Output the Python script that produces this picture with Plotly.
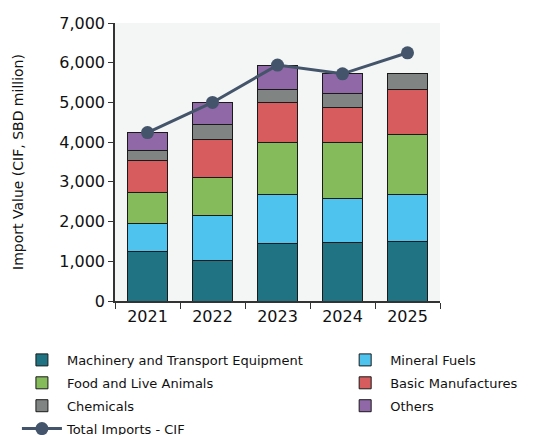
import plotly.graph_objects as go

years = ["2021", "2022", "2023", "2024", "2025"]

machinery = [1240, 1020, 1450, 1480, 1510]
mineral_fuels = [720, 1140, 1240, 1110, 1180]
food = [780, 960, 1310, 1410, 1500]
basic_manufactures = [800, 940, 1000, 880, 1140]
chemicals = [240, 380, 330, 350, 390]
others = [460, 560, 610, 490, 0]
total_imports = [4240, 5000, 5940, 5720, 6250]

# (name, values, colour, legend column)
series = [
    ("Machinery and Transport Equipment", machinery, "#1f7382", "legend"),
    ("Mineral Fuels", mineral_fuels, "#4dc3ee", "legend2"),
    ("Food and Live Animals", food, "#85bb5b", "legend"),
    ("Basic Manufactures", basic_manufactures, "#d65c5e", "legend2"),
    ("Chemicals", chemicals, "#808584", "legend"),
    ("Others", others, "#9068a8", "legend2"),
]

fig = go.Figure()
for name, vals, color, leg in series:
    fig.add_trace(go.Bar(
        x=years, y=vals, name=name, legend=leg, legendgroup=name,
        marker=dict(color=color, line=dict(color="#1a1a1a", width=1)),
    ))

fig.add_trace(go.Scatter(
    x=years, y=total_imports, name="Total Imports - CIF",
    legend="legend", legendgroup="total",
    mode="lines+markers",
    line=dict(color="#44546a", width=3),
    marker=dict(color="#44546a", size=13),
))

font = "DejaVu Sans, sans-serif"
legend_style = dict(
    orientation="v",
    xref="container", yref="container",
    yanchor="top", xanchor="left",
    font=dict(family=font, size=13, color="#111111"),
    itemwidth=40, tracegroupgap=3,
    traceorder="grouped",
    bgcolor="rgba(0,0,0,0)",
)
fig.update_layout(
    width=546, height=435,
    barmode="stack", bargap=0.37,
    paper_bgcolor="white", plot_bgcolor="#f4f6f5",
    margin=dict(l=115, r=106, t=23, b=134, autoexpand=False),
    font=dict(family=font, size=14, color="#111111"),
    legend=dict(legend_style, x=0.031, y=0.207),
    legend2=dict(legend_style, x=0.623, y=0.207),
    showlegend=True,
)
# y-axis title as a rotated label at the far left
fig.add_annotation(
    text="Import Value (CIF, SBD million)",
    xref="paper", yref="paper", x=-0.2985, y=0.5,
    xanchor="center", yanchor="middle",
    textangle=-90, showarrow=False,
    font=dict(family=font, size=14, color="#111111"),
)
fig.update_yaxes(
    range=[0, 7000], dtick=1000, tickformat=",",
    showgrid=False, zeroline=False,
    showline=True, linecolor="#333333", linewidth=1.5,
    ticks="outside", ticklen=5, tickcolor="#333333",
    tickfont=dict(size=16),
)
fig.update_xaxes(
    showgrid=False, showline=True, linecolor="#333333", linewidth=1.5,
    ticks="outside", ticklen=6, tickcolor="#333333", tickson="boundaries",
    tickfont=dict(size=16),
)

fig.write_html("out.html")
